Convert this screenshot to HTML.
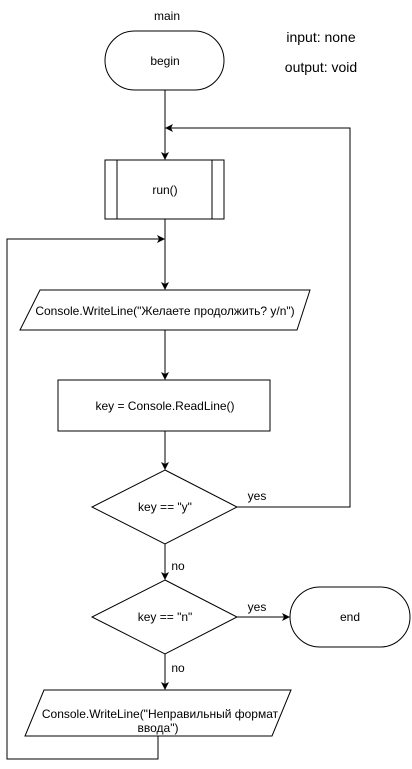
<!DOCTYPE html>
<html><head><meta charset="utf-8"><style>body{margin:0;background:#fff}svg{display:block}</style></head>
<body>
<svg width="412" height="769" viewBox="0 0 412 769" xmlns="http://www.w3.org/2000/svg" font-family="Liberation Sans, Noto Sans CJK JP, sans-serif" font-size="12" fill="none" stroke="#000" stroke-width="1">
<defs><marker id="a" markerWidth="8" markerHeight="8" refX="7" refY="4" orient="auto" markerUnits="userSpaceOnUse"><path d="M0,0 L8,4 L0,8 L2,4 Z" fill="#000" stroke="none"/></marker></defs>
<g fill="#000" stroke="none" text-anchor="middle">
<text x="167" y="20">main</text>
<text x="321" y="42" font-size="14">input: none</text>
<text x="321" y="72" font-size="14">output: void</text>
<text x="165" y="65">begin</text>
<text x="165" y="194">run()</text>
<text x="165" y="315">Console.WriteLine("Желаете продолжить? y/n")</text>
<text x="165" y="410">key = Console.ReadLine()</text>
<text x="165" y="511">key == "y"</text>
<text x="165" y="621">key == "n"</text>
<text x="350" y="621">end</text>
<text x="257" y="500">yes</text>
<text x="257" y="611">yes</text>
<text x="178" y="570">no</text>
<text x="178" y="672">no</text>
<text x="160" y="718">Console.WriteLine("Неправильный формат</text>
<text x="158" y="732">ввода")</text>
</g>
<rect x="105" y="31" width="119" height="59" rx="29.5"/>
<rect x="105" y="160" width="119" height="59"/>
<line x1="117" y1="160" x2="117" y2="219"/><line x1="212" y1="160" x2="212" y2="219"/>
<path d="M40,290 H310 L297,330 H20 Z"/>
<rect x="58" y="380" width="212" height="51"/>
<path d="M165,470 L237,507 L165,544 L92,507 Z"/>
<path d="M165,580 L237,617 L165,654 L92,617 Z"/>
<rect x="290" y="587" width="120" height="60" rx="30"/>
<path d="M44,690 H291 L272,736 H25 Z"/>
<line x1="165" y1="90" x2="165" y2="159" marker-end="url(#a)"/>
<line x1="165" y1="219" x2="165" y2="289" marker-end="url(#a)"/>
<line x1="165" y1="330" x2="165" y2="379" marker-end="url(#a)"/>
<line x1="165" y1="431" x2="165" y2="469" marker-end="url(#a)"/>
<line x1="165" y1="544" x2="165" y2="579" marker-end="url(#a)"/>
<line x1="165" y1="654" x2="165" y2="689" marker-end="url(#a)"/>
<line x1="237" y1="617" x2="289" y2="617" marker-end="url(#a)"/>
<path d="M237,507 H350 V128 H166" marker-end="url(#a)"/>
<path d="M158,736 V759 H7 V239 H164" marker-end="url(#a)"/>
</svg>
</body></html>
